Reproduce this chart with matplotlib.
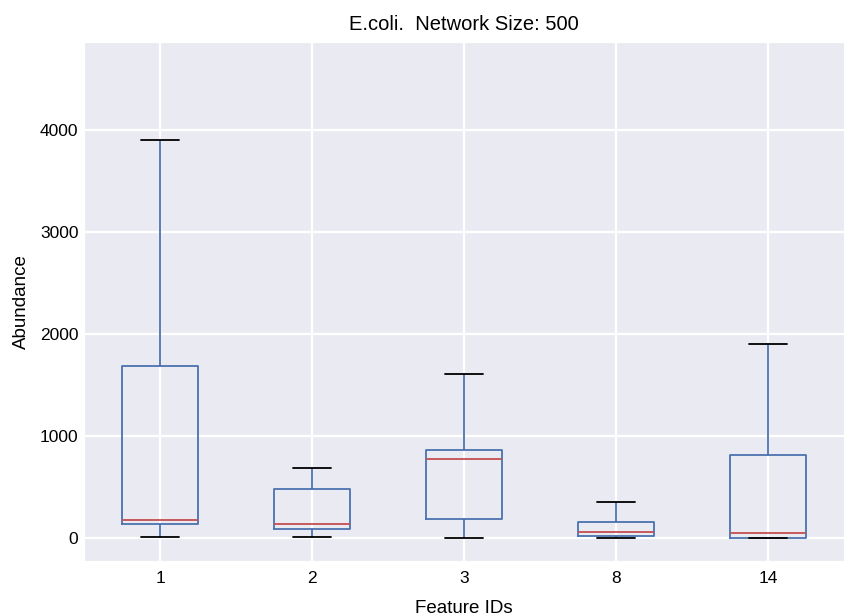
import matplotlib
matplotlib.use("Agg")
import matplotlib.pyplot as plt
import seaborn as sns

sns.set_style("darkgrid")
plt.rcParams['font.family'] = ['Liberation Sans', 'DejaVu Sans']
plt.rcParams['text.color'] = 'black'
plt.rcParams['axes.labelcolor'] = 'black'
plt.rcParams['xtick.color'] = 'black'
plt.rcParams['ytick.color'] = 'black'

feature_ids = ["1", "2", "3", "8", "14"]
whisker_low = [10, 7, 0, 0, 0]
q1 = [137, 88, 189, 23, 3]
median = [181, 134, 778, 59, 52]
q3 = [1686, 483, 863, 157, 811]
whisker_high = [3900, 689, 1605, 353, 1905]

stats = []
for i, lab in enumerate(feature_ids):
    stats.append(dict(label=lab, whislo=whisker_low[i], q1=q1[i], med=median[i],
                      q3=q3[i], whishi=whisker_high[i], fliers=[]))

fig = plt.figure(figsize=(8.46, 6.15), dpi=100)
ax = fig.add_axes([0.0993, 0.0878, 0.8983, 0.8439])
blue = '#4C72B0'
ax.bxp(stats, widths=0.5, showfliers=False,
       boxprops=dict(color=blue, linewidth=1.3),
       whiskerprops=dict(color=blue, linewidth=1.3),
       capprops=dict(color='black', linewidth=1.3),
       medianprops=dict(color='#C44E52', linewidth=1.3))
ax.set_xlim(0.5, 5.5)
ax.set_ylim(-225, 4863)
ax.set_yticks([0, 1000, 2000, 3000, 4000])
ax.grid(True, color='white', linewidth=1.6)
ax.tick_params(axis='y', labelsize=12.5, pad=0.5)
ax.tick_params(axis='x', labelsize=12.5, pad=4)
ax.set_title("E.coli.  Network Size: 500", fontsize=14.5, pad=9)
ax.set_xlabel("Feature IDs", fontsize=13.5, labelpad=9.5)
ax.set_ylabel("Abundance", fontsize=13.5, labelpad=7)
fig.savefig("out.png", dpi=100)
